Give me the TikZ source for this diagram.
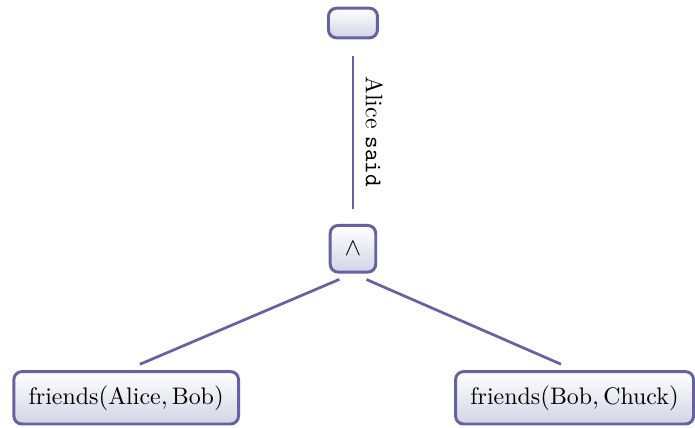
\documentclass[tikz,border=0pt]{standalone}
\usepackage{amsmath}
\usetikzlibrary{positioning}
\definecolor{colour_edge}{HTML}{6363A3}
\colorlet{colour_fill}{colour_edge!28}

\begin{document}
\begin{tikzpicture}
   [
      box/.style={rectangle, rounded corners=3.5pt, draw=colour_edge, line width=1.3pt,
                  top color=white, bottom color=colour_fill, font=\fontsize{10.5}{12.5}\selectfont},
      link/.style={line width=1.2pt, colour_edge, shorten >=6.5pt, shorten <=6.5pt},
      label node/.style={text=black, font=\fontsize{10.5}{12.5}\selectfont},
   ]

   % bounding box, same proportions as the reference
   \useasboundingbox (-155.0pt,10.1pt) rectangle (150.2pt,-177.8pt);

   % =======================================================
   % Nodes
   % =======================================================

   \node[box, minimum width=21.5pt, minimum height=13pt] (root) {};
   \node[box, minimum width=20pt, minimum height=20.5pt, inner sep=2pt, below=2.85cm of root] (conj) {$\wedge$};

   \node[box, minimum height=23pt, inner xsep=6.5pt, below=1.49cm of conj, xshift=-3.5cm]
      (left) {$\text{friends}(\text{Alice}, \text{Bob})$};
   \node[box, minimum height=23pt, inner xsep=6.5pt, below=1.49cm of conj, xshift=3.42cm]
      (right) {$\text{friends}(\text{Bob}, \text{Chuck})$};

   % =======================================================
   % Edges
   % =======================================================

   \draw[link, shorten <=7.5pt] (root.south) -- (conj.north)
      node[label node, midway, anchor=south, rotate=-90, inner sep=5pt] {Alice \texttt{said}};
   \draw[link] (conj.south) -- (left.north);
   \draw[link] (conj.south) -- (right.north);

\end{tikzpicture}
\end{document}
